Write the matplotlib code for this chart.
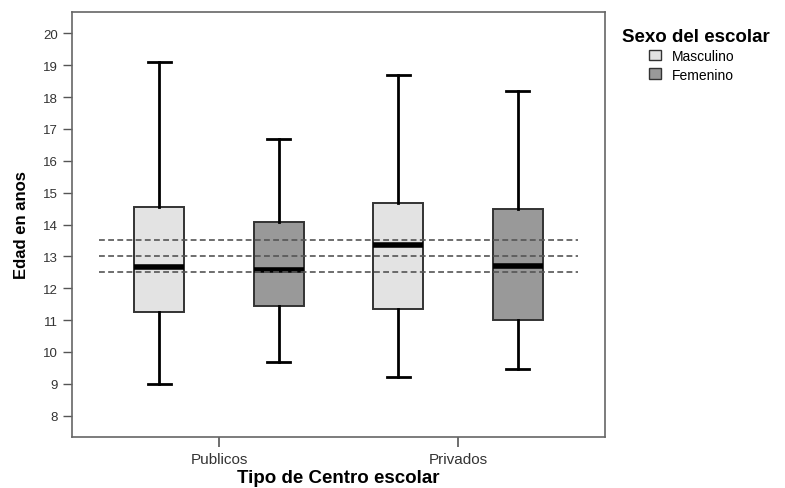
import numpy as np
import matplotlib
matplotlib.use("Agg")
import matplotlib.pyplot as plt
from matplotlib.patches import Patch

plt.rcParams['font.family'] = ['Liberation Sans', 'DejaVu Sans']

# data
centros = ['Publicos', 'Privados']
sexos = ['Masculino', 'Femenino']
colores = ['#e3e3e3', '#999999']

# per group: [Publicos, Privados]
masc_min = [9.0, 9.2]
masc_q1 = [11.25, 11.35]
masc_med = [12.66, 13.36]
masc_q3 = [14.54, 14.68]
masc_max = [19.09, 18.69]

fem_min = [9.69, 9.47]
fem_q1 = [11.43, 10.99]
fem_med = [12.58, 12.69]
fem_q3 = [14.09, 14.49]
fem_max = [16.68, 18.19]

ref_lines = [12.5, 13.0, 13.5]

fig = plt.figure(figsize=(7.85, 4.89), dpi=100)
ax = fig.add_axes([72 / 785, 1 - 438 / 489, (605 - 72) / 785, (438 - 13) / 489])

series = [
    (masc_min, masc_q1, masc_med, masc_q3, masc_max),
    (fem_min, fem_q1, fem_med, fem_q3, fem_max),
]
offsets = [-0.25, 0.25]

for s, (lo, q1, med, q3, hi) in enumerate(series):
    stats = []
    for i in range(len(centros)):
        stats.append({'whislo': lo[i], 'q1': q1[i], 'med': med[i],
                      'q3': q3[i], 'whishi': hi[i], 'fliers': []})
    pos = [i + offsets[s] for i in range(len(centros))]
    ax.bxp(stats, positions=pos, widths=0.21, patch_artist=True,
           showfliers=False, manage_ticks=False,
           boxprops=dict(facecolor=colores[s], edgecolor='#333333', linewidth=1.4),
           medianprops=dict(color='black', linewidth=4, solid_capstyle='butt'),
           whiskerprops=dict(color='black', linewidth=2),
           capprops=dict(color='black', linewidth=2),
           capwidths=0.096, zorder=3)

for y in ref_lines:
    ax.plot([-0.5, 1.5], [y, y], linestyle=(0, (3.5, 2)), color='#555555',
            linewidth=1.2, zorder=4)

ax.set_xlim(-0.615, 1.615)
ax.set_ylim(7.33, 20.67)
ax.set_xticks(range(len(centros)))
ax.set_xticklabels(centros, fontsize=11)
ax.set_yticks(range(8, 21))
ax.tick_params(axis='y', labelsize=9.5, length=6.5, color='#555555', width=1,
               labelcolor='#333333')
ax.tick_params(axis='x', length=7, color='#555555', width=1.2, pad=4,
               labelcolor='#333333')
for sp in ax.spines.values():
    sp.set_color('#666666')
    sp.set_linewidth(1.2)

ax.set_ylabel('Edad en anos', fontsize=12, fontweight='bold', labelpad=10)
ax.set_xlabel('Tipo de Centro escolar', fontsize=13.5, fontweight='bold', labelpad=2)

fig.text(622 / 785, 1 - 37 / 489, 'Sexo del escolar', fontsize=13.5,
         fontweight='bold', va='center', ha='left')
handles = [Patch(facecolor=colores[i], edgecolor='#333333', label=sexos[i])
           for i in range(len(sexos))]
fig.legend(handles=handles, loc='upper left',
           bbox_to_anchor=(639 / 785, 1 - 40 / 489), frameon=False,
           fontsize=10, handlelength=0.9, handleheight=0.8, handletextpad=0.8,
           labelspacing=0.35, borderpad=0.2)

fig.savefig('out.png', dpi=100)
